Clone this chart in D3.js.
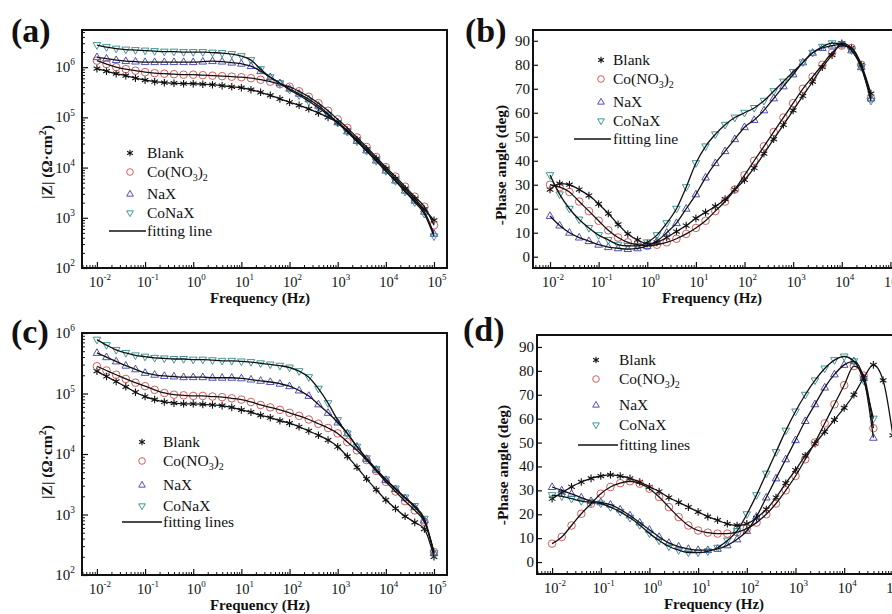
<!DOCTYPE html>
<html>
<head>
<meta charset="utf-8">
<script src="https://cdn.jsdelivr.net/npm/d3@7"></script>
<style>
  body { margin: 0; background: #fff; }
  svg { display: block; }
  text { font-family: "Liberation Serif", "Times New Roman", serif; fill: #111; }
</style>
</head>
<body>
<div id="chart"></div>
<script>
// frequencies (Hz), shared by every panel
const freqHz = [0.01, 0.0158, 0.0251, 0.0398, 0.0631, 0.1, 0.158, 0.251, 0.398, 0.631,
  1, 1.58, 2.51, 3.98, 6.31, 10, 15.8, 25.1, 39.8, 63.1,
  100, 158, 251, 398, 631, 1000, 1585, 2512, 3981, 6310,
  10000, 15849, 25119, 39811, 63096, 100000];

const seriesNames = ["Blank", "Co(NO3)2", "NaX", "CoNaX"];
const seriesColors = ["#111111", "#d24b4b", "#3c3cb4", "#2e8b8b"];
const seriesShapes = ["star", "circle", "up", "down"];

// (a) |Z| in ohm.cm2
const zA_blank = [9.33e5, 8.32e5, 7.41e5, 6.76e5, 6.03e5, 5.50e5, 5.13e5, 4.90e5, 4.79e5, 4.68e5,
  4.68e5, 4.57e5, 4.47e5, 4.27e5, 4.07e5, 3.89e5, 3.55e5, 3.16e5, 2.75e5, 2.34e5,
  2.00e5, 1.74e5, 1.48e5, 1.23e5, 1.00e5, 7.94e4, 5.50e4, 3.63e4, 2.34e4, 1.51e4,
  9.55e3, 6.03e3, 3.80e3, 2.40e3, 1.48e3, 8.91e2];
const zA_co = [1.35e6, 1.15e6, 1.00e6, 9.12e5, 8.51e5, 7.94e5, 7.59e5, 7.41e5, 7.24e5, 7.08e5,
  7.08e5, 6.92e5, 6.76e5, 6.61e5, 6.46e5, 6.31e5, 6.03e5, 5.62e5, 5.13e5, 4.57e5,
  4.07e5, 3.31e5, 2.57e5, 1.91e5, 1.35e5, 9.12e4, 6.17e4, 3.98e4, 2.57e4, 1.62e4,
  1.02e4, 6.61e3, 4.17e3, 2.63e3, 1.66e3, 7.08e2];
const zA_nax = [1.58e6, 1.48e6, 1.38e6, 1.32e6, 1.29e6, 1.26e6, 1.26e6, 1.26e6, 1.26e6, 1.26e6,
  1.26e6, 1.29e6, 1.32e6, 1.29e6, 1.23e6, 1.17e6, 1.05e6, 8.32e5, 6.31e5, 4.79e5,
  3.72e5, 2.95e5, 2.29e5, 1.70e5, 1.17e5, 7.94e4, 5.25e4, 3.39e4, 2.19e4, 1.38e4,
  8.71e3, 5.50e3, 3.47e3, 2.19e3, 1.32e3, 4.79e2];
const zA_conax = [2.75e6, 2.51e6, 2.34e6, 2.24e6, 2.19e6, 2.14e6, 2.09e6, 2.04e6, 2.04e6, 2.00e6,
  2.00e6, 2.00e6, 1.95e6, 1.91e6, 1.82e6, 1.66e6, 1.38e6, 9.12e5, 6.31e5, 4.79e5,
  3.55e5, 2.75e5, 2.09e5, 1.55e5, 1.12e5, 7.76e4, 5.13e4, 3.31e4, 2.14e4, 1.35e4,
  8.51e3, 5.37e3, 3.31e3, 2.04e3, 1.20e3, 4.27e2];

// (b) -phase angle in deg
const phB_blank = [28, 30.5, 30, 28, 25.5, 22, 18, 13.5, 9.5, 7, 5.5, 6, 8, 10.5, 13, 16, 18.5, 21, 24, 28,
  32, 37, 43, 49, 55, 61, 67, 73, 79, 84, 89, 87, 80, 68];
const phB_co = [30, 29, 27, 23, 19, 15, 11, 8, 6, 5, 4.5, 5, 6, 7.5, 9.5, 12, 15, 19, 23, 28,
  34, 40, 46, 52, 58, 64, 70, 75, 80, 85, 88, 87, 80, 66];
const phB_nax = [17, 13, 10, 8, 6.5, 5, 4, 3.5, 3.2, 3.5, 4.5, 6.5, 10, 14, 20, 26, 33, 39, 44, 49,
  54, 57, 61, 66, 71, 76, 81, 85, 87, 88, 88.5, 86, 79, 66];
const phB_conax = [34, 26, 20, 15.5, 12, 9, 7, 5, 4.5, 4.5, 6, 9, 14, 20, 29, 39, 46, 51, 55, 58,
  60, 62, 65, 69, 73, 77, 81, 85, 87.5, 89, 88.5, 86, 79, 65];

// (c) |Z| in ohm.cm2
const zC_blank = [2.34e5, 1.91e5, 1.58e5, 1.29e5, 1.05e5, 8.91e4, 7.94e4, 7.24e4, 6.92e4, 6.76e4,
  6.76e4, 6.61e4, 6.46e4, 6.31e4, 5.89e4, 5.37e4, 4.90e4, 4.37e4, 3.98e4, 3.55e4,
  3.24e4, 2.82e4, 2.40e4, 2.04e4, 1.70e4, 1.32e4, 9.12e3, 6.03e3, 3.89e3, 2.57e3,
  1.74e3, 1.26e3, 9.33e2, 7.41e2, 5.75e2, 2.00e2];
const zC_co = [2.82e5, 2.40e5, 2.04e5, 1.74e5, 1.51e5, 1.32e5, 1.15e5, 1.02e5, 9.55e4, 9.33e4,
  9.12e4, 9.12e4, 8.91e4, 8.71e4, 8.32e4, 7.94e4, 7.24e4, 6.46e4, 5.89e4, 5.37e4,
  4.79e4, 4.27e4, 3.72e4, 3.16e4, 2.69e4, 2.19e4, 1.58e4, 1.15e4, 7.94e3, 5.25e3,
  3.47e3, 2.40e3, 1.66e3, 1.17e3, 7.59e2, 2.40e2];
const zC_nax = [4.68e5, 3.98e5, 3.39e5, 2.88e5, 2.51e5, 2.19e5, 2.04e5, 1.95e5, 1.91e5, 1.86e5,
  1.86e5, 1.86e5, 1.82e5, 1.82e5, 1.82e5, 1.78e5, 1.70e5, 1.62e5, 1.55e5, 1.45e5,
  1.32e5, 1.12e5, 9.12e4, 6.61e4, 4.79e4, 3.31e4, 2.19e4, 1.32e4, 8.32e3, 5.50e3,
  3.72e3, 2.63e3, 1.86e3, 1.32e3, 7.94e2, 2.29e2];
const zC_conax = [7.76e5, 6.31e5, 5.25e5, 4.68e5, 4.27e5, 4.07e5, 3.89e5, 3.80e5, 3.72e5, 3.72e5,
  3.63e5, 3.63e5, 3.55e5, 3.47e5, 3.47e5, 3.39e5, 3.31e5, 3.16e5, 3.02e5, 2.88e5,
  2.69e5, 2.34e5, 1.86e5, 1.20e5, 6.92e4, 3.63e4, 2.19e4, 1.32e4, 8.51e3, 5.62e3,
  3.80e3, 2.69e3, 1.91e3, 1.38e3, 8.51e2, 2.29e2];

// (d) -phase angle in deg
const phD_blank = [26.5, 29, 31.5, 33.5, 35, 36, 36.5, 36, 35, 33.5, 31.5, 29.5, 27, 25, 23, 21, 19, 17.5, 16, 15.3,
  16, 18.5, 22, 27, 33, 38.5, 44.5, 49.5, 54.5, 59.5, 64.5, 70, 77, 82.5, 76, 53];
const phD_co = [7.7, 10.5, 15.3, 20.2, 24.4, 28.6, 31.4, 33, 33.8, 32.8, 30.7, 27.2, 23, 18.8, 15.3, 13.2, 12.3, 11.9, 11.9, 12.5,
  14, 16.5, 20, 24.5, 30, 36, 43, 50, 58, 66, 74, 82, 78, 56];
const phD_nax = [31.4, 30, 28.5, 27, 25.5, 25, 24, 22, 19.5, 16.5, 13.5, 10.5, 8, 6.5, 5.5, 5, 5, 5.5, 7, 9.5,
  13, 19, 27, 35, 43, 51, 59, 66, 73, 78.5, 82.5, 84, 77, 52];
const phD_conax = [28, 27.5, 26.5, 25.5, 25, 24.5, 23, 21, 18.5, 15.5, 12, 9, 6.5, 5, 4, 4, 4.5, 6, 9, 13,
  20, 28, 37, 46, 55, 63, 70, 76, 81, 84.5, 86, 84, 76, 60];

const magTicks = [2, 3, 4, 5, 6];
const phaseTicks = [0, 10, 20, 30, 40, 50, 60, 70, 80, 90];
const freqTicks = [-2, -1, 0, 1, 2, 3, 4, 5];

const panels = [
  { tag: "(a)", tagX: 11, tagY: 42, kind: "mag", series: [zA_blank, zA_co, zA_nax, zA_conax],
    left: 82, right: 447, top: 30, bottom: 268, xExp: [-2.31, 5.27], yDom: [100, Math.pow(10, 6.74)],
    titleX: 260, yTitle: [47, 162],
    legend: { mx: 130, tx: 147, rows: [153, 172, 194, 213, 231], lx: [109, 146], fit: "fitting line" } },
  { tag: "(b)", tagX: 465, tagY: 42, kind: "phase", series: [phB_blank, phB_co, phB_nax, phB_conax],
    left: 533, right: 905, top: 30, bottom: 268, xExp: [-2.35, 5.3], yDom: [-4.7, 94.5],
    titleX: 712, yTitle: [501, 165],
    legend: { mx: 601, tx: 613, rows: [60, 79, 102, 121, 139], lx: [574, 611], fit: "fitting line" } },
  { tag: "(c)", tagX: 11, tagY: 343, kind: "mag", series: [zC_blank, zC_co, zC_nax, zC_conax],
    left: 82, right: 447, top: 333, bottom: 575, xExp: [-2.31, 5.27], yDom: [100, 1e6],
    titleX: 260, yTitle: [47, 462],
    legend: { mx: 142, tx: 163, rows: [442, 461, 485, 506, 522], lx: [122, 162], fit: "fitting lines" } },
  { tag: "(d)", tagX: 463, tagY: 341, kind: "phase", series: [phD_blank, phD_co, phD_nax, phD_conax],
    left: 537, right: 906, top: 335, bottom: 574, xExp: [-2.31, 5.27], yDom: [-5, 95],
    titleX: 714, yTitle: [503, 465],
    legend: { mx: 596, tx: 619, rows: [360, 379, 405, 425, 445], lx: [578, 618], fit: "fitting lines" } }
];

const svg = d3.select("#chart").append("svg").attr("width", 892).attr("height", 614);

function shapePath(shape, r) {
  if (shape === "circle") return d3.symbol(d3.symbolCircle, Math.PI * r * r)();
  if (shape === "up") return `M0,${-r * 1.1}L${r},${r * 0.65}L${-r},${r * 0.65}Z`;
  if (shape === "down") return `M0,${r * 1.1}L${r},${-r * 0.65}L${-r},${-r * 0.65}Z`;
  const a = r * 0.87, b = r * 0.5;
  return `M0,${-r}L0,${r}M${-a},${-b}L${a},${b}M${-a},${b}L${a},${-b}`;
}

function drawMarker(g, shape, color, cx, cy, r) {
  g.append("path")
    .attr("d", shapePath(shape, r))
    .attr("transform", `translate(${cx},${cy})`)
    .attr("fill", "none")
    .attr("stroke", color)
    .attr("stroke-width", shape === "star" ? 1.1 : 0.9);
}

function supText(g, x, y, base, exp, anchor, size) {
  const t = g.append("text").attr("x", x).attr("y", y)
    .attr("text-anchor", anchor).attr("font-size", size);
  t.append("tspan").text(base);
  t.append("tspan").attr("font-size", size * 0.62).attr("dy", -size * 0.45).text(exp);
  return t;
}

panels.forEach((p, pi) => {
  const g = svg.append("g");
  const x = d3.scaleLog().domain(p.xExp.map(e => Math.pow(10, e))).range([p.left, p.right]);
  const y = (p.kind === "mag" ? d3.scaleLog() : d3.scaleLinear())
    .domain(p.yDom).range([p.bottom, p.top]);

  // minor + major ticks on the bottom axis (inward)
  const minorX = [];
  for (let e = -3; e <= 5; e++) for (let m = 2; m <= 9; m++) {
    const v = m * Math.pow(10, e);
    if (v > x.domain()[0] && v < x.domain()[1]) minorX.push(v);
  }
  g.append("g").attr("transform", `translate(0,${p.bottom})`)
    .call(d3.axisBottom(x).tickValues(minorX).tickSize(-3).tickFormat(""))
    .call(s => s.select(".domain").remove())
    .call(s => s.selectAll("line").attr("stroke", "#111").attr("stroke-width", 1));
  g.append("g").attr("transform", `translate(0,${p.bottom})`)
    .call(d3.axisBottom(x).tickValues(freqTicks.map(e => Math.pow(10, e))).tickSize(-6).tickFormat(""))
    .call(s => s.select(".domain").remove())
    .call(s => s.selectAll("line").attr("stroke", "#111").attr("stroke-width", 1.2));

  freqTicks.forEach(e => {
    supText(g, x(Math.pow(10, e)) + 3, p.bottom + 19, "10", String(e), "middle", 14.5);
  });

  // left axis
  if (p.kind === "mag") {
    const minorY = [];
    for (let e = 2; e <= 6; e++) for (let m = 2; m <= 9; m++) {
      const v = m * Math.pow(10, e);
      if (v < p.yDom[1]) minorY.push(v);
    }
    g.append("g").attr("transform", `translate(${p.left},0)`)
      .call(d3.axisLeft(y).tickValues(minorY).tickSize(-3).tickFormat(""))
      .call(s => s.select(".domain").remove())
      .call(s => s.selectAll("line").attr("stroke", "#111"));
    g.append("g").attr("transform", `translate(${p.left},0)`)
      .call(d3.axisLeft(y).tickValues(magTicks.map(e => Math.pow(10, e))).tickSize(-6).tickFormat(""))
      .call(s => s.select(".domain").remove())
      .call(s => s.selectAll("line").attr("stroke", "#111").attr("stroke-width", 1.2));
    magTicks.forEach(e => {
      supText(g, p.left - 7, y(Math.pow(10, e)) + 5, "10", String(e), "end", 15);
    });
  } else {
    g.append("g").attr("transform", `translate(${p.left},0)`)
      .call(d3.axisLeft(y).tickValues(phaseTicks).tickSize(-5).tickFormat(""))
      .call(s => s.select(".domain").remove())
      .call(s => s.selectAll("line").attr("stroke", "#111").attr("stroke-width", 1.2));
    phaseTicks.forEach(v => {
      g.append("text").attr("x", p.left - 3).attr("y", y(v) + 5)
        .attr("text-anchor", "end").attr("font-size", 15).text(v);
    });
  }

  // data
  const clipId = "clip" + pi;
  svg.append("clipPath").attr("id", clipId).append("rect")
    .attr("x", p.left).attr("y", p.top).attr("width", p.right - p.left).attr("height", p.bottom - p.top);
  const plot = g.append("g").attr("clip-path", `url(#${clipId})`);

  p.series.forEach((vals, si) => {
    vals.forEach((v, i) => {
      drawMarker(plot, seriesShapes[si], seriesColors[si], x(freqHz[i]), y(v), 3.8);
    });
  });

  const line = d3.line().x(d => x(d[0])).y(d => y(d[1])).curve(d3.curveMonotoneX);
  p.series.forEach(vals => {
    plot.append("path")
      .datum(vals.map((v, i) => [freqHz[i], v]))
      .attr("d", line)
      .attr("fill", "none")
      .attr("stroke", "#111")
      .attr("stroke-width", 1.3);
  });

  // frame
  g.append("rect")
    .attr("x", p.left).attr("y", p.top)
    .attr("width", p.right - p.left).attr("height", p.bottom - p.top)
    .attr("fill", "none").attr("stroke", "#111").attr("stroke-width", 2);

  // titles
  g.append("text").attr("x", p.titleX).attr("y", p.bottom + 35)
    .attr("text-anchor", "middle").attr("font-size", 15).attr("font-weight", "bold")
    .text("Frequency (Hz)");

  const yt = g.append("text")
    .attr("transform", `translate(${p.yTitle[0] + 5},${p.yTitle[1]}) rotate(-90)`)
    .attr("text-anchor", "middle").attr("font-size", 15.5).attr("font-weight", "bold");
  if (p.kind === "mag") {
    yt.append("tspan").text("|Z| (\u03A9\u00B7cm");
    yt.append("tspan").attr("font-size", 10).attr("dy", -6).text("2");
    yt.append("tspan").attr("dy", 6).text(")");
  } else {
    yt.text("-Phase angle (deg)");
  }

  g.append("text").attr("x", p.tagX).attr("y", p.tagY)
    .attr("font-size", 34).attr("font-weight", "bold").text(p.tag);

  // legend
  const L = p.legend;
  seriesNames.forEach((name, si) => {
    drawMarker(g, seriesShapes[si], seriesColors[si], L.mx, L.rows[si], 3.3);
    const t = g.append("text").attr("x", L.tx).attr("y", L.rows[si] + 5).attr("font-size", 15.5);
    if (name === "Co(NO3)2") {
      t.append("tspan").text("Co(NO");
      t.append("tspan").attr("font-size", 10).attr("dy", 4).text("3");
      t.append("tspan").attr("dy", -4).text(")");
      t.append("tspan").attr("font-size", 10).attr("dy", 4).text("2");
    } else {
      t.text(name);
    }
  });
  g.append("line").attr("x1", L.lx[0]).attr("x2", L.lx[1])
    .attr("y1", L.rows[4]).attr("y2", L.rows[4])
    .attr("stroke", "#111").attr("stroke-width", 1.3);
  g.append("text").attr("x", L.tx).attr("y", L.rows[4] + 5).attr("font-size", 15.5).text(L.fit);
});
</script>
</body>
</html>
